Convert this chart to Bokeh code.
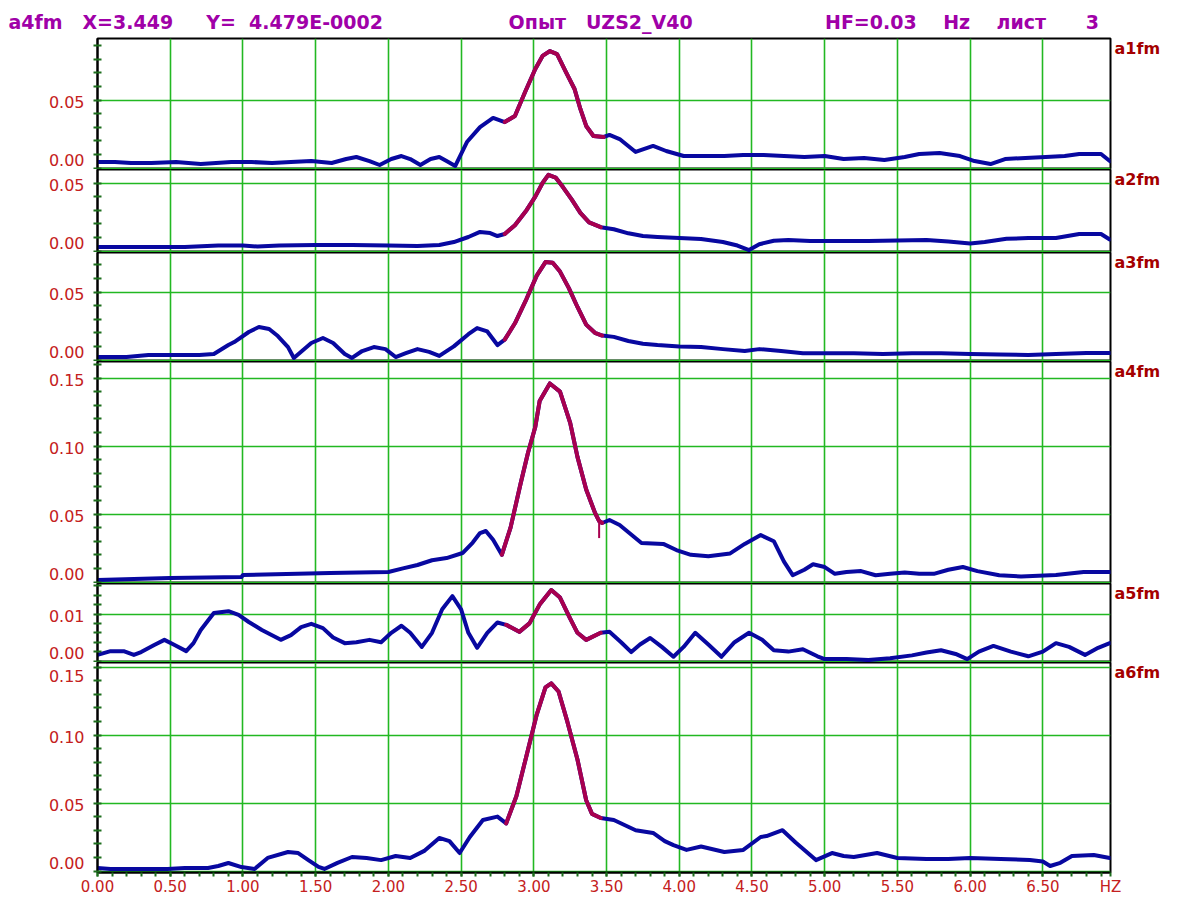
from bokeh.plotting import figure
from bokeh.layouts import column
from bokeh.models import FixedTicker, Range1d, NumeralTickFormatter, LinearAxis
from bokeh.embed import file_html
from bokeh.resources import INLINE

# ---------------- data ----------------
X_MAX = 6.965
HIGHLIGHT = (2.78, 3.49)
CURSOR_X = 3.449
CURSOR_Y = 0.04479
CURSOR_DROP = 0.0125

x_ticks = [0.0, 0.5, 1.0, 1.5, 2.0, 2.5, 3.0, 3.5, 4.0, 4.5, 5.0, 5.5, 6.0, 6.5]
x_unit_label = "HZ"

a1_x = [0.00, 0.12, 0.23, 0.37, 0.54, 0.71, 0.92, 1.06, 1.20, 1.33, 1.47, 1.61, 1.71, 1.78, 1.87,
        1.94, 2.02, 2.09, 2.15, 2.22, 2.29, 2.35, 2.40, 2.46, 2.54, 2.63, 2.72, 2.80, 2.87, 2.94,
        3.01, 3.06, 3.11, 3.16, 3.22, 3.28, 3.32, 3.36, 3.41, 3.48, 3.52, 3.59, 3.70, 3.82, 3.91,
        4.03, 4.17, 4.31, 4.44, 4.58, 4.72, 4.86, 5.00, 5.13, 5.27, 5.41, 5.55, 5.65, 5.79, 5.93,
        6.03, 6.14, 6.24, 6.38, 6.52, 6.65, 6.75, 6.90, 6.96]
a1_y = [0.0044, 0.0044, 0.0037, 0.0037, 0.0044, 0.0029, 0.0044, 0.0044, 0.0037, 0.0044, 0.0051, 0.0037, 0.0066, 0.0081, 0.0051,
        0.0022, 0.0066, 0.0088, 0.0066, 0.0022, 0.0066, 0.0081, 0.0051, 0.0015, 0.0191, 0.0301, 0.0368, 0.0338, 0.0382, 0.0559,
        0.0728, 0.0824, 0.0860, 0.0838, 0.0706, 0.0581, 0.0434, 0.0309, 0.0235, 0.0228, 0.0243, 0.0213, 0.0118, 0.0162, 0.0125,
        0.0088, 0.0088, 0.0088, 0.0096, 0.0096, 0.0088, 0.0081, 0.0088, 0.0066, 0.0074, 0.0059, 0.0081, 0.0103, 0.0110, 0.0088,
        0.0051, 0.0029, 0.0066, 0.0074, 0.0081, 0.0088, 0.0103, 0.0103, 0.0051]

a2_x = [0.00, 0.30, 0.60, 0.83, 1.00, 1.10, 1.25, 1.50, 1.75, 2.00, 2.20, 2.35, 2.45, 2.55, 2.63,
        2.70, 2.75, 2.80, 2.87, 2.95, 3.01, 3.06, 3.10, 3.15, 3.20, 3.26, 3.32, 3.38, 3.46, 3.55,
        3.65, 3.75, 3.85, 4.00, 4.15, 4.30, 4.40, 4.48, 4.55, 4.65, 4.75, 4.90, 5.10, 5.30, 5.50,
        5.70, 5.85, 6.00, 6.10, 6.25, 6.40, 6.59, 6.75, 6.90, 6.96]
a2_y = [0.0029, 0.0029, 0.0029, 0.0040, 0.0040, 0.0033, 0.0040, 0.0044, 0.0044, 0.0040, 0.0037, 0.0044, 0.0066, 0.0103, 0.0140,
        0.0132, 0.0110, 0.0125, 0.0190, 0.0300, 0.0400, 0.0500, 0.0560, 0.0540, 0.0470, 0.0380, 0.0280, 0.0210, 0.0175, 0.0160,
        0.0130, 0.0110, 0.0103, 0.0095, 0.0088, 0.0066, 0.0040, 0.0007, 0.0050, 0.0075, 0.0080, 0.0073, 0.0073, 0.0073, 0.0077,
        0.0081, 0.0070, 0.0055, 0.0066, 0.0090, 0.0095, 0.0095, 0.0125, 0.0125, 0.0085]

a3_x = [0.00, 0.20, 0.35, 0.55, 0.70, 0.80, 0.90, 0.94, 1.04, 1.11, 1.18, 1.24, 1.31, 1.35, 1.40,
        1.47, 1.55, 1.62, 1.70, 1.75, 1.82, 1.90, 1.98, 2.05, 2.12, 2.20, 2.28, 2.35, 2.45, 2.55,
        2.61, 2.68, 2.75, 2.80, 2.87, 2.95, 3.02, 3.08, 3.13, 3.18, 3.24, 3.30, 3.36, 3.42, 3.47,
        3.55, 3.65, 3.75, 3.85, 4.00, 4.15, 4.30, 4.45, 4.55, 4.70, 4.85, 5.00, 5.20, 5.40, 5.60,
        5.80, 6.00, 6.20, 6.40, 6.59, 6.80, 6.96]
a3_y = [0.0022, 0.0022, 0.0037, 0.0037, 0.0037, 0.0044, 0.0110, 0.0132, 0.0206, 0.0243, 0.0228, 0.0176, 0.0095, 0.0015, 0.0060,
        0.0125, 0.0162, 0.0125, 0.0044, 0.0015, 0.0066, 0.0095, 0.0080, 0.0022, 0.0050, 0.0080, 0.0060, 0.0030, 0.0100, 0.0190,
        0.0235, 0.0210, 0.0110, 0.0150, 0.0270, 0.0450, 0.0620, 0.0720, 0.0715, 0.0650, 0.0530, 0.0390, 0.0260, 0.0200, 0.0180,
        0.0170, 0.0140, 0.0120, 0.0110, 0.0100, 0.0095, 0.0080, 0.0066, 0.0080, 0.0066, 0.0050, 0.0050, 0.0050, 0.0044, 0.0050,
        0.0050, 0.0044, 0.0040, 0.0037, 0.0044, 0.0051, 0.0051]

a4_x = [0.00, 0.25, 0.50, 0.75, 0.99, 1.00, 1.30, 1.60, 2.00, 2.10, 2.20, 2.30, 2.40, 2.51, 2.58,
        2.63, 2.67, 2.72, 2.78, 2.84, 2.91, 2.96, 3.01, 3.04, 3.11, 3.18, 3.25, 3.30, 3.36, 3.42,
        3.449, 3.47, 3.52, 3.59, 3.74, 3.89, 3.98, 4.08, 4.20, 4.35, 4.45, 4.56, 4.65, 4.72, 4.78,
        4.86, 4.92, 5.00, 5.07, 5.15, 5.25, 5.35, 5.45, 5.55, 5.65, 5.75, 5.85, 5.95, 6.05, 6.20,
        6.35, 6.59, 6.78, 6.96]
a4_y = [0.0015, 0.0022, 0.0029, 0.0033, 0.0037, 0.0051, 0.0058, 0.0066, 0.0074, 0.0100, 0.0125, 0.0160, 0.0176, 0.0213, 0.0290,
        0.0360, 0.0375, 0.0310, 0.0200, 0.0400, 0.0728, 0.0950, 0.1140, 0.1330, 0.1460, 0.1400, 0.1170, 0.0920, 0.0680, 0.0510,
        0.0448, 0.0434, 0.0456, 0.0419, 0.0287, 0.0280, 0.0235, 0.0200, 0.0190, 0.0210, 0.0280, 0.0345, 0.0300, 0.0150, 0.0050,
        0.0090, 0.0130, 0.0110, 0.0060, 0.0074, 0.0080, 0.0050, 0.0060, 0.0070, 0.0060, 0.0060, 0.0090, 0.0110, 0.0080, 0.0050,
        0.0040, 0.0051, 0.0074, 0.0074]

a5_x = [0.00, 0.09, 0.18, 0.25, 0.30, 0.39, 0.46, 0.53, 0.61, 0.66, 0.71, 0.80, 0.90, 0.97, 1.04,
        1.13, 1.26, 1.33, 1.40, 1.47, 1.55, 1.62, 1.70, 1.78, 1.87, 1.95, 2.02, 2.09, 2.15, 2.23,
        2.30, 2.37, 2.44, 2.50, 2.55, 2.61, 2.68, 2.75, 2.81, 2.90, 2.97, 3.04, 3.12, 3.18, 3.25,
        3.30, 3.36, 3.46, 3.52, 3.60, 3.67, 3.73, 3.80, 3.88, 3.96, 4.03, 4.11, 4.20, 4.29, 4.38,
        4.48, 4.57, 4.65, 4.75, 4.85, 4.95, 5.00, 5.15, 5.30, 5.45, 5.60, 5.70, 5.80, 5.90, 5.98,
        6.06, 6.16, 6.28, 6.40, 6.50, 6.59, 6.68, 6.79, 6.88, 6.96]
a5_y = [0.0013, 0.0021, 0.0021, 0.0013, 0.0019, 0.0034, 0.0045, 0.0034, 0.0021, 0.0038, 0.0066, 0.0102, 0.0106, 0.0098, 0.0083,
        0.0066, 0.0045, 0.0055, 0.0072, 0.0079, 0.0070, 0.0050, 0.0038, 0.0040, 0.0045, 0.0040, 0.0060, 0.0075, 0.0060, 0.0030,
        0.0060, 0.0110, 0.0138, 0.0110, 0.0060, 0.0028, 0.0060, 0.0082, 0.0077, 0.0062, 0.0080, 0.0120, 0.0151, 0.0135, 0.0090,
        0.0060, 0.0045, 0.0060, 0.0062, 0.0040, 0.0019, 0.0035, 0.0049, 0.0030, 0.0009, 0.0030, 0.0060, 0.0035, 0.0009, 0.0040,
        0.0060, 0.0045, 0.0023, 0.0020, 0.0025, 0.0010, 0.0004, 0.0004, 0.0002, 0.0006, 0.0012, 0.0018, 0.0023, 0.0015, 0.0004,
        0.0020, 0.0032, 0.0020, 0.0010, 0.0020, 0.0038, 0.0030, 0.0013, 0.0028, 0.0038]

a6_x = [0.00, 0.09, 0.30, 0.48, 0.60, 0.76, 0.83, 0.90, 0.99, 1.08, 1.17, 1.31, 1.38, 1.45, 1.52,
        1.56, 1.65, 1.75, 1.85, 1.95, 2.05, 2.15, 2.25, 2.35, 2.42, 2.49, 2.56, 2.65, 2.75, 2.81,
        2.88, 2.95, 3.02, 3.08, 3.12, 3.17, 3.23, 3.30, 3.36, 3.40, 3.46, 3.55, 3.70, 3.82, 3.90,
        3.96, 4.05, 4.15, 4.31, 4.44, 4.56, 4.60, 4.71, 4.80, 4.86, 4.94, 5.05, 5.13, 5.20, 5.36,
        5.50, 5.70, 5.85, 6.00, 6.21, 6.41, 6.50, 6.55, 6.62, 6.70, 6.85, 6.96]
a6_y = [0.0022, 0.0015, 0.0015, 0.0015, 0.0022, 0.0022, 0.0037, 0.0059, 0.0029, 0.0015, 0.0096, 0.0140, 0.0132, 0.0080, 0.0030,
        0.0015, 0.0060, 0.0103, 0.0095, 0.0080, 0.0110, 0.0095, 0.0150, 0.0243, 0.0220, 0.0132, 0.0250, 0.0375, 0.0400, 0.0350,
        0.0550, 0.0850, 0.1150, 0.1350, 0.1380, 0.1320, 0.1100, 0.0820, 0.0520, 0.0420, 0.0390, 0.0375, 0.0300, 0.0280, 0.0220,
        0.0190, 0.0155, 0.0180, 0.0140, 0.0155, 0.0250, 0.0257, 0.0300, 0.0210, 0.0155, 0.0080, 0.0132, 0.0110, 0.0103, 0.0132,
        0.0096, 0.0088, 0.0088, 0.0096, 0.0088, 0.0081, 0.0070, 0.0037, 0.0060, 0.0110, 0.0118, 0.0096]

series_names = ["a1fm", "a2fm", "a3fm", "a4fm", "a5fm", "a6fm"]
cursor_series = "a4fm"
grid_values = [[0.0, 0.05], [0.0, 0.05], [0.0, 0.05], [0.0, 0.05, 0.10, 0.15], [0.0, 0.01], [0.0, 0.05, 0.10, 0.15]]
minor_steps = [0.01, 0.01, 0.01, 0.01, 0.002, 0.01]

header_words = ["a4fm", "X=3.449", "Y=", "4.479E-0002", "Опыт", "UZS2_V40", "HF=0.03", "Hz", "лист", "3"]
header_gaps = [3, 5, 2, 19, 3, 20, 4, 4, 6]   # non-breaking spaces between the words

# ---------------- style / layout ----------------
BLUE = "#0808a0"
CRIMSON = "#a8004f"
GRID = "#22b822"
TICK = "#1d6e1d"
TICK_LABEL = "#c42020"
NAME_COL = "#a40000"
HEADER_COL = "#a000a8"
FONT = "DejaVu Sans"

LEFT, RIGHT = 97, 74
FRAME_W = 1013
frame_heights = [131, 83, 109, 222, 79, 210]
px_per_unit = [1360.0, 1360.0, 1360.0, 1360.0, 4700.0, 1360.0]
TOP_BORDER, BOTTOM_BORDER = 38, 25

NB = "\u00a0"
header_text = header_words[0]
for gap, word in zip(header_gaps, header_words[1:]):
    header_text += NB * gap + word

xr = Range1d(0, X_MAX)
xs_all = [a1_x, a2_x, a3_x, a4_x, a5_x, a6_x]
ys_all = [a1_y, a2_y, a3_y, a4_y, a5_y, a6_y]

figs = []
n = len(series_names)
for i in range(n):
    h = frame_heights[i]
    ppu = px_per_unit[i]
    start = -1.5 / ppu
    end = start + h / ppu
    first, last = (i == 0), (i == n - 1)
    p = figure(x_range=xr, y_range=Range1d(start, end),
               frame_width=FRAME_W, frame_height=h,
               min_border_left=LEFT, min_border_right=RIGHT,
               min_border_top=TOP_BORDER if first else 0,
               min_border_bottom=BOTTOM_BORDER if last else 0,
               toolbar_location=None, output_backend="svg",
               title=header_text if first else None,
               title_location="above" if first else None,
               x_axis_location="below" if last else None)
    p.background_fill_color = "white"
    p.border_fill_color = "white"
    p.outline_line_color = "black"
    p.outline_line_width = 2
    p.outline_line_alpha = 1.0

    if first:
        p.title.align = "left"
        p.title.offset = 8 - LEFT
        p.title.standoff = 11
        p.title.text_color = HEADER_COL
        p.title.text_font = FONT
        p.title.text_font_style = "bold"
        p.title.text_font_size = "19px"

    # grid
    p.xgrid.ticker = FixedTicker(ticks=x_ticks[1:])
    p.ygrid.ticker = FixedTicker(ticks=grid_values[i])
    for g in (p.xgrid, p.ygrid):
        g.grid_line_color = GRID
        g.grid_line_width = 1.6
        g.grid_line_alpha = 1.0

    # y axis: labels kept inside the panel, like the original program
    step = minor_steps[i]
    minor = [round(k * step, 4) for k in range(int(end / step) + 1)]
    lo, hi = start + 9.5 / ppu, end - 13 / ppu
    label_pos, overrides = [], {}
    for v in grid_values[i]:
        pos = min(max(v - 2 / ppu, lo), hi)
        label_pos.append(pos)
        overrides[pos] = f"{v:.2f}"
    ax = p.yaxis[0]
    ax.ticker = FixedTicker(ticks=label_pos, minor_ticks=minor)
    ax.major_label_overrides = overrides
    ax.major_tick_line_color = None
    ax.major_tick_in = 0
    ax.major_tick_out = 0
    ax.major_label_standoff = 9
    ax.minor_tick_line_color = TICK
    ax.minor_tick_line_width = 2
    ax.minor_tick_in = 4
    ax.minor_tick_out = 4
    ax.axis_line_color = "black"
    ax.axis_line_width = 2
    ax.major_label_text_color = TICK_LABEL
    ax.major_label_text_font = FONT
    ax.major_label_text_font_size = "16px"

    # series name at the top of the right side
    name_pos = end - 10 / ppu
    rax = LinearAxis(ticker=FixedTicker(ticks=[name_pos]),
                     major_label_overrides={name_pos: series_names[i]},
                     axis_line_color=None, major_tick_line_color=None, minor_tick_line_color=None,
                     major_tick_in=0, major_tick_out=0, minor_tick_in=0, minor_tick_out=0,
                     major_label_standoff=4,
                     major_label_text_color=NAME_COL, major_label_text_font=FONT,
                     major_label_text_font_style="bold", major_label_text_font_size="16px")
    p.add_layout(rax, "right")

    if last:
        hz_pos = X_MAX - 1e-6
        xa = p.xaxis[0]
        xa.ticker = FixedTicker(ticks=x_ticks + [hz_pos],
                                minor_ticks=[round(k * 0.1, 2) for k in range(int(X_MAX / 0.1) + 1)])
        xa.formatter = NumeralTickFormatter(format="0.00")
        xa.major_label_overrides = {hz_pos: x_unit_label}
        xa.major_tick_line_color = TICK
        xa.major_tick_line_width = 2
        xa.major_tick_in = 0
        xa.major_tick_out = 4
        xa.minor_tick_line_color = TICK
        xa.minor_tick_line_width = 2
        xa.minor_tick_in = 0
        xa.minor_tick_out = 4
        xa.major_label_standoff = 1
        xa.axis_line_color = "black"
        xa.axis_line_width = 2
        xa.major_label_text_color = TICK_LABEL
        xa.major_label_text_font = FONT
        xa.major_label_text_font_size = "15px"

    # curves
    xs, ys = xs_all[i], ys_all[i]
    p.line(xs, ys, line_color=BLUE, line_width=4, line_join="round", line_cap="round")
    hx = [x for x in xs if HIGHLIGHT[0] <= x <= HIGHLIGHT[1]]
    hy = [y for x, y in zip(xs, ys) if HIGHLIGHT[0] <= x <= HIGHLIGHT[1]]
    p.line(hx, hy, line_color=CRIMSON, line_width=4, line_join="round", line_cap="round")

    if series_names[i] == cursor_series:
        p.segment(x0=[CURSOR_X], y0=[CURSOR_Y], x1=[CURSOR_X], y1=[CURSOR_Y - CURSOR_DROP],
                  line_color=CRIMSON, line_width=2)

    figs.append(p)

layout = column(*figs)
open("out.html", "w").write(file_html(layout, INLINE, title="a1fm-a6fm"))
